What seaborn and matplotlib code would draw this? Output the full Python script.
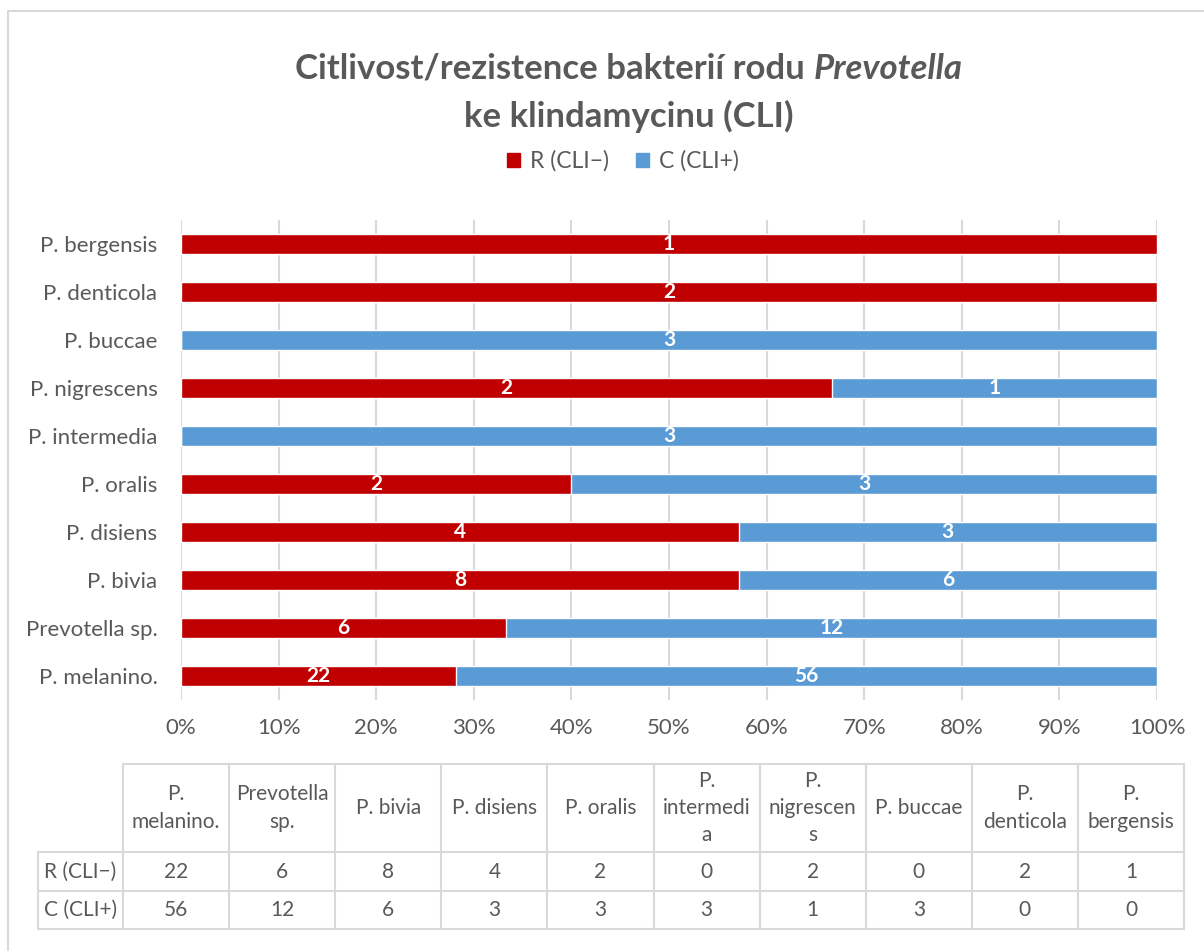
import matplotlib
matplotlib.use("Agg")
import matplotlib.pyplot as plt
from matplotlib.lines import Line2D
from matplotlib.patches import Patch
import numpy as np
import pandas as pd
import seaborn as sns

# ---- data -------------------------------------------------------------
species = ["P. melanino.", "Prevotella sp.", "P. bivia", "P. disiens", "P. oralis",
           "P. intermedia", "P. nigrescens", "P. buccae", "P. denticola", "P. bergensis"]
table_headers = ["P.\nmelanino.", "Prevotella\nsp.", "P. bivia", "P. disiens", "P. oralis",
                 "P.\nintermedi\na", "P.\nnigrescen\ns", "P. buccae", "P.\ndenticola", "P.\nbergensis"]
resistant = [22, 6, 8, 4, 2, 0, 2, 0, 2, 1]     # R (CLI−)
sensitive = [56, 12, 6, 3, 3, 3, 1, 3, 0, 0]    # C (CLI+)
series_names = ["R (CLI\u2212)", "C (CLI+)"]
pct_ticks = list(range(0, 101, 10))

RED = "#C00000"
BLUE = "#5B9BD5"
GRID = "#D9D9D9"
TEXT = "#595959"

df = pd.DataFrame({"species": species, "R": resistant, "C": sensitive})
df["total"] = df["R"] + df["C"]
df["r_pct"] = df["R"] / df["total"] * 100
df["c_pct"] = df["C"] / df["total"] * 100
df["stack_end"] = df["r_pct"] + df["c_pct"]

# ---- figure -----------------------------------------------------------
sns.set_theme(style="white")
plt.rcParams["font.family"] = ["Lato", "DejaVu Sans"]

W, H = 1204, 951
fig = plt.figure(figsize=(W / 100, H / 100), dpi=100)
fig.patch.set_facecolor("white")


def px_axes(left, top, right, bottom):
    return fig.add_axes([left / W, 1 - bottom / H, (right - left) / W, (bottom - top) / H])


# chart frame (left and top edges)
fig.add_artist(Line2D([8 / W, 8 / W], [0, 1 - 11 / H], color=GRID, lw=1.5))
fig.add_artist(Line2D([8 / W, 1], [1 - 11 / H, 1 - 11 / H], color=GRID, lw=1.5))

# ---- stacked 100 % bars ---------------------------------------------------
ax = px_axes(181, 220, 1157, 700)
order = species[::-1]
sns.barplot(data=df, x="stack_end", y="species", order=order, color=BLUE,
            saturation=1, width=0.4, orient="h", ax=ax, errorbar=None, zorder=2)
sns.barplot(data=df, x="r_pct", y="species", order=order, color=RED,
            saturation=1, width=0.4, orient="h", ax=ax, errorbar=None, zorder=3)

for _, row in df.iterrows():
    yi = order.index(row["species"])
    if row["R"] > 0:
        ax.text(row["r_pct"] / 2, yi, f"{row['R']}", ha="center", va="center",
                color="white", fontsize=15, fontweight="bold", zorder=4)
    if row["C"] > 0:
        ax.text(row["r_pct"] + row["c_pct"] / 2, yi, f"{row['C']}", ha="center", va="center",
                color="white", fontsize=15, fontweight="bold", zorder=4)

ax.set_xlim(0, 100)
ax.set_ylim(len(order) - 0.5, -0.5)
ax.set_xticks(pct_ticks)
ax.set_xticklabels([f"{t}%" for t in pct_ticks])
ax.xaxis.grid(True, color=GRID, lw=1.5, zorder=0)
ax.set_axisbelow(True)
ax.yaxis.grid(False)
for s in ax.spines.values():
    s.set_visible(False)
ax.set_xlabel("")
ax.set_ylabel("")
ax.tick_params(axis="both", length=0, labelsize=16, labelcolor=TEXT)
ax.tick_params(axis="y", pad=17)
ax.tick_params(axis="x", pad=13)

# ---- title --------------------------------------------------------------
title_kw = dict(fontsize=25, fontweight="bold", color=TEXT, va="baseline")
renderer = fig.canvas.get_renderer()
t1 = fig.text(0, 0, "Citlivost/rezistence bakterií rodu ", **title_kw)
t2 = fig.text(0, 0, "Prevotella", style="italic", **title_kw)
w1 = t1.get_window_extent(renderer).width
w2 = t2.get_window_extent(renderer).width
cx = 629
x0 = cx - (w1 + w2) / 2
base1 = 1 - 79 / H
t1.set_position((x0 / W, base1))
t2.set_position(((x0 + w1) / W, base1))
fig.text(cx / W, 1 - 127 / H, "ke klindamycinu (CLI)", ha="center", **title_kw)

# ---- legend -------------------------------------------------------------
handles = [Patch(facecolor=RED, edgecolor=RED), Patch(facecolor=BLUE, edgecolor=BLUE)]
fig.legend(handles, series_names, loc="center", bbox_to_anchor=(623 / W, 1 - 161 / H),
           ncol=2, frameon=False, fontsize=16.5, labelcolor=TEXT,
           handlelength=0.55, handleheight=0.55, handletextpad=0.45, columnspacing=1.2)

# ---- data table -----------------------------------------------------------
tL, tR, tTop, tB = 38, 1184, 764, 929
lab_r = 123
head_b, mid = 852, 891
tax = px_axes(tL, tTop, tR, tB)
tax.set_xlim(tL, tR)
tax.set_ylim(tB, tTop)
tax.axis("off")
col_w = (tR - lab_r) / len(species)
lkw = dict(color=GRID, lw=1.5, clip_on=False)
# horizontal rules
tax.plot([lab_r, tR], [tTop, tTop], **lkw)
for yy in (head_b, mid, tB):
    tax.plot([tL, tR], [yy, yy], **lkw)
# vertical rules
tax.plot([tL, tL], [head_b, tB], **lkw)
for k in range(len(species) + 1):
    xx = lab_r + k * col_w
    tax.plot([xx, xx], [tTop, tB], **lkw)

cell_kw = dict(ha="center", va="center", color=TEXT, fontsize=15)
for k, head in enumerate(table_headers):
    xc = lab_r + (k + 0.5) * col_w
    tax.text(xc, (tTop + head_b) / 2, head, linespacing=1.44, **cell_kw)
    tax.text(xc, (head_b + mid) / 2, str(resistant[k]), **cell_kw)
    tax.text(xc, (mid + tB) / 2, str(sensitive[k]), **cell_kw)
tax.text(tL + 6, (head_b + mid) / 2, series_names[0], ha="left", va="center", color=TEXT, fontsize=15)
tax.text(tL + 6, (mid + tB) / 2, series_names[1], ha="left", va="center", color=TEXT, fontsize=15)

fig.savefig("out.png", dpi=100, facecolor="white")
